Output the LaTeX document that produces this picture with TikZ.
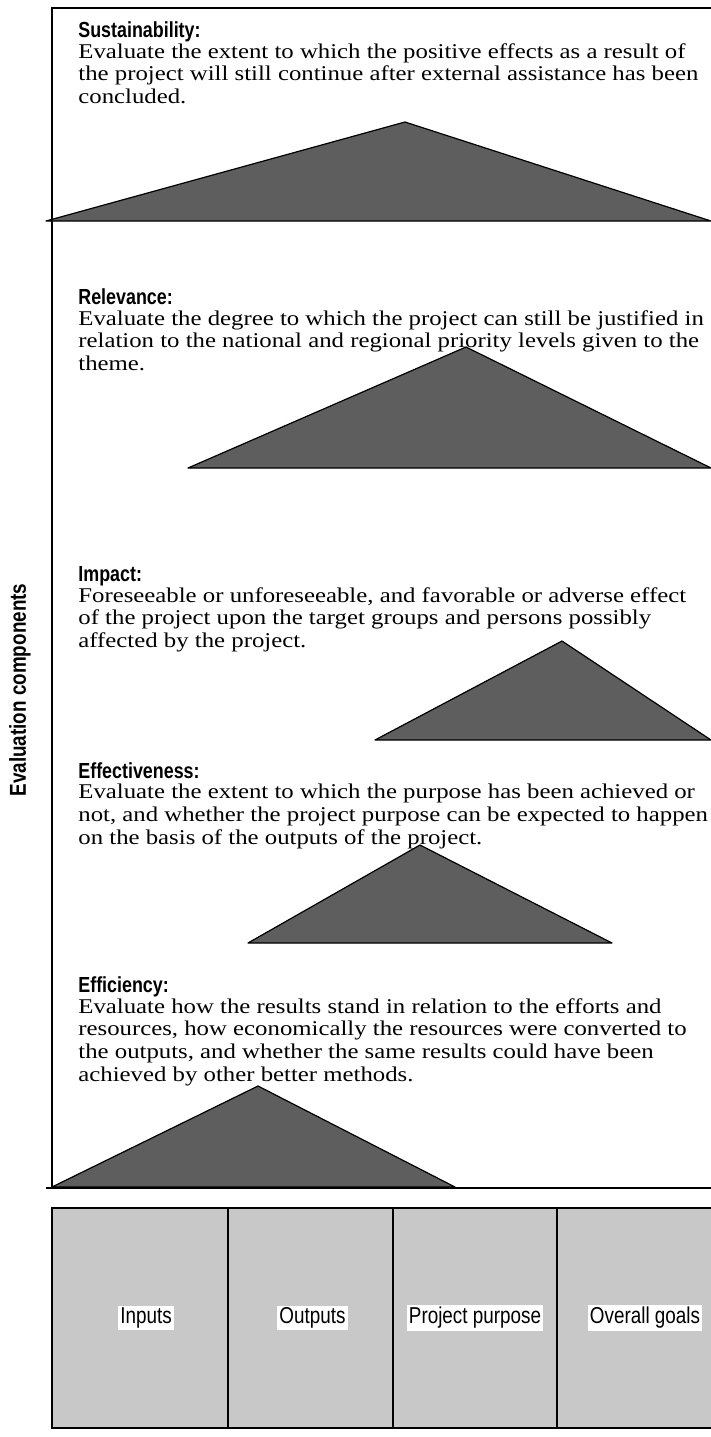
\documentclass[tikz,border=0pt]{standalone}
\usepackage{fontspec}
\setmainfont{Liberation Serif}[FakeStretch=1.18]
\setsansfont{Liberation Sans}
\newfontfamily\narrowfont{Liberation Sans}[FakeStretch=0.82]
\usetikzlibrary{positioning}
\definecolor{figline}{HTML}{000000}
\definecolor{figpeak}{HTML}{5E5E5E}
\definecolor{figbase}{HTML}{C8C8C8}

\begin{document}
\begin{tikzpicture}[
  x=0.5pt, y=-0.5pt,
  ctitle/.style={font=\fontsize{10.9}{12}\selectfont\narrowfont\bfseries, anchor=base west, inner sep=0pt},
  ctext/.style={font=\fontsize{10.5}{11.3}\selectfont, align=left, inner sep=0pt},
  peak/.style={draw=figline, line width=0.6pt, fill=figpeak, line join=round},
  frame/.style={draw=figline, line width=0.8pt},
  stage/.style={draw=figline, line width=0.8pt, fill=figbase, minimum height=110pt,
                anchor=north west, inner sep=0pt, outer sep=0pt},
  slab/.style={font=\fontsize{11.5}{13}\selectfont\narrowfont, fill=white, inner sep=1pt}
]
\useasboundingbox (0,0) rectangle (711,1437);

% frame
\draw[frame] (711,8) -- (52,8) -- (52,1188);
\draw[frame] (46,1188) -- (711,1188);

% peaks
\draw[peak] (46,221) -- (405,122) -- (711,221) -- cycle;
\draw[peak] (188,468) -- (466,347) -- (711,468) -- cycle;
\draw[peak] (375,740) -- (562,641) -- (711,740) -- cycle;
\draw[peak] (248,943) -- (420,845) -- (612,943) -- cycle;
\draw[peak] (52,1187) -- (258,1086) -- (455,1187) -- cycle;

% components
\node[ctitle] (sus) at (78,37) {Sustainability:};
\node[ctext, below=3pt of sus.base west, anchor=north west] (sustxt) {Evaluate the extent to which the positive effects as a result of\\
  the project will still continue after external assistance has been\\concluded.};
\node[ctitle] (rel) at (78,304) {Relevance:};
\node[ctext, below=3pt of rel.base west, anchor=north west] (reltxt) {Evaluate the degree to which the project can still be justified in\\
  relation to the national and regional priority levels given to the\\theme.};
\node[ctitle] (imp) at (78,581) {Impact:};
\node[ctext, below=3pt of imp.base west, anchor=north west] (imptxt) {Foreseeable or unforeseeable, and favorable or adverse effect\\
  of the project upon the target groups and persons possibly\\affected by the project.};
\node[ctitle] (efv) at (78,778) {Effectiveness:};
\node[ctext, below=3pt of efv.base west, anchor=north west] (efvtxt) {Evaluate the extent to which the purpose has been achieved or\\
  not, and whether the project purpose can be expected to happen\\on the basis of the outputs of the project.};
\node[ctitle] (efc) at (78,992) {Efficiency:};
\node[ctext, below=3pt of efc.base west, anchor=north west] (efctxt) {Evaluate how the results stand in relation to the efforts and\\
  resources, how economically the resources were converted to\\
  the outputs, and whether the same results could have been\\achieved by other better methods.};

\node[rotate=90, font=\fontsize{11.5}{13}\selectfont\narrowfont\bfseries] (axis) at (20,690) {Evaluation components};

% stages
\node[stage, minimum width=88pt] (inp) at (52,1208) {};
\node[stage, minimum width=82.5pt, right=0pt of inp] (outp) {};
\node[stage, minimum width=82pt, right=0pt of outp] (purp) {};
\node[stage, minimum width=82pt, right=0pt of purp] (goal) {};
\node[slab] (inplab)  at ([xshift=3pt]inp.center)  {Inputs};
\node[slab] (outplab) at ([xshift=1pt]outp.center) {Outputs};
\node[slab] (purplab) at (purp.center) {Project purpose};
\node[slab] (goallab) at ([xshift=3pt]goal.center) {Overall goals};
\end{tikzpicture}
\end{document}
